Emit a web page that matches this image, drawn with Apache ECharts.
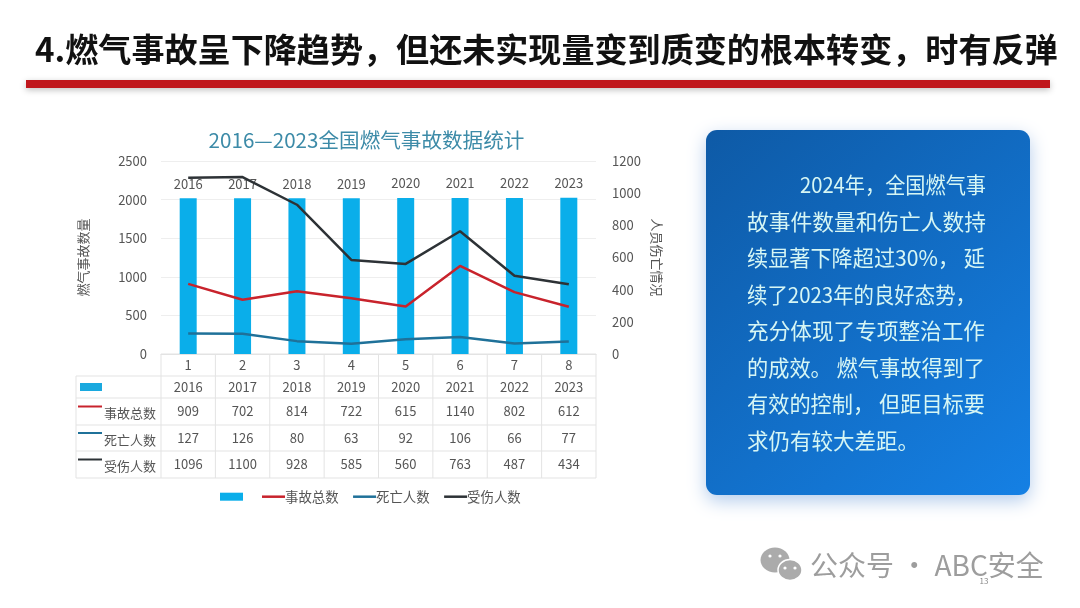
<!DOCTYPE html>
<html><head><meta charset="utf-8">
<style>html,body{margin:0;padding:0;background:#fff}#c{width:1080px;height:608px}</style>
<script src="https://cdn.jsdelivr.net/npm/echarts@6/dist/echarts.min.js"></script></head>
<body><div id="c"></div>
<script>
var indexLabels = ['1','2','3','4','5','6','7','8'];
var years = [2016,2017,2018,2019,2020,2021,2022,2023];
var accidents = [909,702,814,722,615,1140,802,612];
var deaths = [127,126,80,63,92,106,66,77];
var injuries = [1096,1100,928,585,560,763,487,434];
var leftTicks = {min:0,max:2500,interval:500};
var rightTicks = {min:0,max:1200,interval:200};
var seriesNames = ['事故总数','死亡人数','受伤人数'];
var pageTitle = '4.燃气事故呈下降趋势，但还未实现量变到质变的根本转变，时有反弹';
var chartTitle = '2016—2023全国燃气事故数据统计';
var panelLines = ['2024年，全国燃气事','故事件数量和伤亡人数持','续显著下降超过30%， 延','续了2023年的良好态势，','充分体现了专项整治工作','的成效。 燃气事故得到了','有效的控制， 但距目标要','求仍有较大差距。'];
var panelWidths = [186,239,238,229,238,238,238,0];
var COL = {bar:'#0aaeea',acc:'#c8232c',dea:'#1f7199',inj:'#2d3236',txt:'#555',line:'#e3e3e3'};
var FF = '"Noto Sans CJK SC","Noto Sans",sans-serif';
var G = {l:161,r:484,t:161,b:254};
var plain = function(v){return String(v);};
var legendBase = {top:485,itemWidth:23,selectedMode:false,textStyle:{fontSize:13.4,color:COL.txt,fontFamily:FF,padding:[0,0,0,-5]}};
var chart = echarts.init(document.getElementById('c'),null,{renderer:'canvas'});
chart.setOption({
  animation:false, backgroundColor:'#fff',
  textStyle:{fontFamily:FF},
  title:{text:chartTitle,left:361.5,top:125,textAlign:'center',textStyle:{fontSize:20.6,fontWeight:'normal',color:'#3d8ba8',fontFamily:FF}},
  grid:{left:G.l,right:G.r,top:G.t,bottom:G.b},
  legend:[
    Object.assign({},legendBase,{left:215,itemHeight:8,data:[{name:' ',icon:'rect'}]}),
    Object.assign({},legendBase,{left:257,itemHeight:2.5,itemGap:14.5,data:seriesNames.map(function(n){return {name:n,icon:'rect'};})})
  ],
  xAxis:{type:'category',data:indexLabels,axisTick:{show:false},axisLine:{lineStyle:{color:COL.line}},
    axisLabel:{color:COL.txt,fontSize:13,margin:5}},
  yAxis:[
    {type:'value',min:leftTicks.min,max:leftTicks.max,interval:leftTicks.interval,name:'燃气事故数量',nameLocation:'middle',nameGap:71,
     nameTextStyle:{color:COL.txt,fontSize:13},axisLabel:{color:COL.txt,fontSize:13,margin:14,formatter:plain},axisLine:{show:false},axisTick:{show:false},splitLine:{lineStyle:{color:'#eeeeee'}}},
    {type:'value',min:rightTicks.min,max:rightTicks.max,interval:rightTicks.interval,name:'人员伤亡情况',nameLocation:'middle',nameGap:54,nameRotate:-90,
     nameTextStyle:{color:COL.txt,fontSize:13},axisLabel:{color:COL.txt,fontSize:13,margin:16,formatter:plain},axisLine:{show:false},axisTick:{show:false},splitLine:{show:false}}
  ],
  series:[
    {name:' ',type:'bar',yAxisIndex:0,data:years,barWidth:17,itemStyle:{color:COL.bar},
     label:{show:true,position:'top',distance:8,color:COL.txt,fontSize:13}},
    {name:seriesNames[0],type:'line',yAxisIndex:0,data:accidents,symbol:'none',lineStyle:{color:COL.acc,width:2.5},itemStyle:{color:COL.acc}},
    {name:seriesNames[1],type:'line',yAxisIndex:1,data:deaths,symbol:'none',lineStyle:{color:COL.dea,width:2.5},itemStyle:{color:COL.dea}},
    {name:seriesNames[2],type:'line',yAxisIndex:1,data:injuries,symbol:'none',lineStyle:{color:COL.inj,width:2.5},itemStyle:{color:COL.inj}}
  ]
});

var els = [];
function hline(x1,x2,y,c,w){els.push({type:'line',silent:true,shape:{x1:x1,y1:y,x2:x2,y2:y},style:{stroke:c,lineWidth:w}});}
function vline(x,y1,y2,c,w){els.push({type:'line',silent:true,shape:{x1:x,y1:y1,x2:x,y2:y2},style:{stroke:c,lineWidth:w}});}
function text(t,x,y,size,color,align,weight,sx){els.push({type:'text',silent:true,x:x,y:y,scaleX:sx||1,style:{text:t,fontSize:size,fill:color,align:align||'center',verticalAlign:'middle',fontFamily:FF,fontWeight:weight||'normal'}});}

// page header
text(pageTitle,35,49,33.1,'#111','left','bold');
els.push({type:'rect',silent:true,shape:{x:26,y:80,width:1024,height:8},style:{fill:'#c0171c',shadowBlur:6,shadowColor:'rgba(0,0,0,0.25)',shadowOffsetY:2}});

// data table under the axis
var rowY = [376,398,425,451,478];
var tableLeft = 76, colW = (1080-G.l-G.r)/8;
rowY.forEach(function(y){hline(tableLeft,1080-G.r,y,COL.line,1);});
hline(G.l,1080-G.r,354,COL.line,1);
vline(tableLeft,376,478,COL.line,1);
for(var i=0;i<=8;i++) vline(G.l+i*colW,354,478,COL.line,1);
var rows = [years,accidents,deaths,injuries];
rows.forEach(function(arr,r){
  var y = (rowY[r]+rowY[r+1])/2;
  arr.forEach(function(v,i){
    var px = chart.convertToPixel({xAxisIndex:0},indexLabels[i]);
    text(String(v),px,y,13,COL.txt);
  });
});
els.push({type:'rect',silent:true,shape:{x:80,y:383,width:22,height:8},style:{fill:'#1aa9df'}});
[COL.acc,COL.dea,COL.inj].forEach(function(c,k){
  var y = (rowY[k+1]+rowY[k+2])/2;
  hline(78,102,y-5,c,2);
  text(seriesNames[k],104,y+2,13,COL.txt,'left');
});

// right panel
els.push({type:'rect',silent:true,shape:{x:706,y:130,width:324,height:365,r:11},
  style:{fill:new echarts.graphic.LinearGradient(0,0,1,1,[{offset:0,color:'#0e5aa6'},{offset:1,color:'#1580e4'}]),
  shadowBlur:18,shadowColor:'rgba(40,110,200,0.35)',shadowOffsetY:6}});
var mctx = document.createElement('canvas').getContext('2d');
mctx.font = '21.5px "Noto Sans CJK SC"';
panelLines.forEach(function(t,i){
  var sx = panelWidths[i] ? panelWidths[i]/mctx.measureText(t).width : 1;
  text(t,i===0?800:747,185+i*36.5,21.5,'#d6f6f4','left','normal',sx);
});

// watermark
els.push({type:'ellipse',silent:true,shape:{cx:775,cy:560,rx:14.5,ry:12.5},style:{fill:'#ababab'}});
els.push({type:'ellipse',silent:true,shape:{cx:790,cy:570,rx:12,ry:10.5},style:{fill:'#ababab',stroke:'#fff',lineWidth:1.5}});
[[770,556],[780,556],[785,568],[795,568]].forEach(function(p){els.push({type:'circle',silent:true,shape:{cx:p[0],cy:p[1],r:1.6},style:{fill:'#fff'}});});
text('公众号 · ABC安全',810,565,28,'#9d9d9d','left');
text('13',984,581,8,'#888');

chart.setOption({graphic:{elements:els}});
</script></body></html>
